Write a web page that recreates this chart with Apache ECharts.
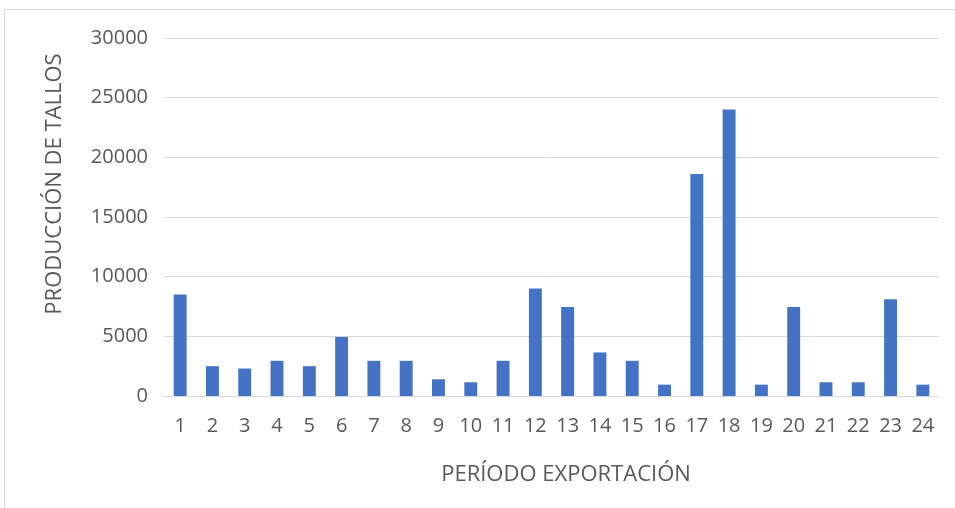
<!DOCTYPE html>
<html>
<head>
<meta charset="utf-8">
<script src="https://cdn.jsdelivr.net/npm/echarts@6/dist/echarts.min.js"></script>
<style>
html,body{margin:0;padding:0;background:#fff;}
#chart{width:955px;height:508px;}
</style>
</head>
<body>
<div id="chart"></div>
<script>
var categories = ['1','2','3','4','5','6','7','8','9','10','11','12','13','14','15','16','17','18','19','20','21','22','23','24'];
var produccion = [8500,2500,2300,2950,2500,4950,2950,2950,1400,1150,2950,9000,7450,3650,2950,950,18600,24000,950,7450,1150,1150,8100,950];
var yTitle = 'PRODUCCIÓN DE TALLOS';
var xTitle = 'PERÍODO EXPORTACIÓN';

var font = 'Open Sans, Liberation Sans, sans-serif';
var chart = echarts.init(document.getElementById('chart'));
chart.setOption({
  animation: false,
  grid: {left: 164, right: 16, top: 38, bottom: 112, containLabel: false},
  xAxis: {
    type: 'category',
    data: categories,
    axisLine: {show: true, lineStyle: {color: '#d9d9d9', width: 1}},
    axisTick: {show: false},
    axisLabel: {color: '#595959', fontSize: 20, fontFamily: font, margin: 20}
  },
  yAxis: {
    type: 'value',
    min: 0, max: 30000, interval: 5000,
    axisLine: {show: false},
    axisTick: {show: false},
    splitLine: {lineStyle: {color: '#d9d9d9', width: 1}},
    axisLabel: {color: '#595959', fontSize: 20, fontFamily: font, margin: 16, formatter: function (v) { return String(v); }}
  },
  series: [{
    type: 'bar',
    data: produccion,
    barWidth: '40%',
    itemStyle: {color: '#4472C4'}
  }],
  graphic: [
    {type: 'rect', shape: {x: 4.5, y: 9.5, width: 1000, height: 600}, style: {fill: 'none', stroke: '#d9d9d9', lineWidth: 1}, z: -1},
    {type: 'text', x: 55, y: 184, rotation: Math.PI / 2, style: {text: yTitle, fill: '#595959', font: '22px ' + font, textAlign: 'center', textVerticalAlign: 'middle'}},
    {type: 'text', x: 566, y: 475, style: {text: xTitle, fill: '#595959', font: '22px ' + font, textAlign: 'center', textVerticalAlign: 'middle'}}
  ]
});
</script>
</body>
</html>
